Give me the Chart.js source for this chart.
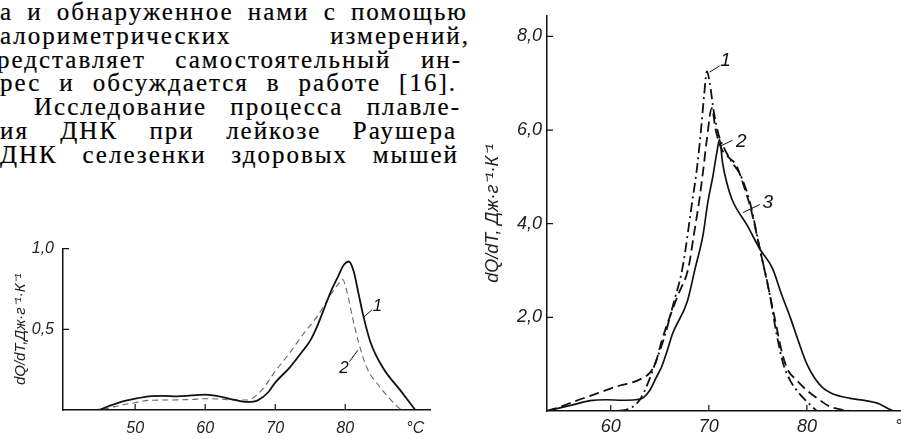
<!DOCTYPE html>
<html lang="ru">
<head>
<meta charset="utf-8">
<script src="https://cdn.jsdelivr.net/npm/chart.js@4.4.1/dist/chart.umd.min.js"></script>
<style>
  html, body { margin: 0; padding: 0; background: #fff; }
  body { width: 901px; height: 439px; overflow: hidden; position: relative; }
  .txt {
    position: absolute; white-space: nowrap; color: #000;
    font-family: "Liberation Serif", "DejaVu Serif", serif;
    font-size: 25px; line-height: 23.8px;
    -webkit-text-stroke: 0.2px #000;
  }
  #leftBox { position: absolute; left: 0; top: 230px; }
  #rightBox { position: absolute; left: 440px; top: 0; }
</style>
</head>
<body>
<div id="page"></div>
<div id="leftBox"><canvas id="leftChart" width="450" height="209"></canvas></div>
<div id="rightBox"><canvas id="rightChart" width="500" height="439"></canvas></div>
<script>
'use strict';

// left figure: dQ/dT of two DNA samples (curves 1, 2)
const leftT1 = [39.7, 44.6, 46, 48, 50, 52, 54, 56, 58, 60, 62, 64, 66, 67.5, 69, 70, 72, 74, 75, 76, 77, 78, 79, 79.8, 80.5, 81.2, 81.9, 82.6, 83.6, 85.4, 87.9, 90];
const leftQ1 = [0, 0, 0.02, 0.05, 0.07, 0.085, 0.088, 0.085, 0.09, 0.095, 0.085, 0.065, 0.05, 0.06, 0.11, 0.17, 0.26, 0.37, 0.43, 0.52, 0.63, 0.74, 0.83, 0.9, 0.92, 0.86, 0.72, 0.58, 0.42, 0.26, 0.12, 0];
const leftT2 = [44, 46, 48, 50, 52, 55, 58, 60, 62, 64, 66, 68, 70, 72, 74, 76, 78, 79, 79.6, 80.2, 81, 81.9, 83.1, 85, 87, 88];
const leftQ2 = [0, 0.01, 0.03, 0.045, 0.06, 0.062, 0.065, 0.07, 0.068, 0.062, 0.062, 0.12, 0.24, 0.35, 0.47, 0.58, 0.72, 0.78, 0.81, 0.74, 0.58, 0.42, 0.26, 0.14, 0.04, 0];
const leftTicksX = [50, 60, 70, 80, 90];
const leftTicksY = [0.5, 1.0];

// right figure: curves 1 (dash-dot), 2 (solid), 3 (dashed)
const rightT1 = [60.8, 62, 63, 63.8, 64.5, 65.5, 66.4, 67.3, 68.3, 68.8, 69.2, 69.5, 69.8, 70.1, 70.5, 71, 71.6, 72.4, 73.2, 74.2, 75.2, 76.2, 76.9, 77.6, 78.3, 79.2, 80, 81];
const rightQ1 = [0, 0.06, 0.25, 0.6, 1.0, 1.6, 2.3, 3.04, 4.46, 5.2, 6.0, 6.7, 7.25, 7.0, 6.4, 5.9, 5.6, 5.3, 5.05, 4.45, 3.46, 2.5, 1.65, 1.0, 0.65, 0.38, 0.2, 0];
const rightT2 = [53.5, 54.5, 56.1, 57.9, 59.5, 61.2, 62.5, 63.3, 64, 64.6, 65.2, 65.7, 66.3, 67.8, 68.6, 69.4, 69.9, 70.4, 70.8, 71.1, 71.4, 71.8, 72.4, 73.9, 75.2, 76.5, 77.4, 78.3, 79.2, 80, 80.8, 81.6, 82.5, 84.4, 86, 87.4, 88.2, 88.8];
const rightQ2 = [0, 0.05, 0.13, 0.22, 0.24, 0.23, 0.24, 0.28, 0.45, 0.7, 0.95, 1.25, 1.65, 2.34, 3.04, 3.75, 4.46, 5.0, 5.5, 5.8, 5.3, 4.9, 4.5, 3.97, 3.46, 3.04, 2.5, 2.0, 1.45, 1.0, 0.7, 0.5, 0.38, 0.27, 0.22, 0.15, 0.06, 0];
const rightT3 = [53.5, 55, 56.1, 58, 59.6, 61, 62.2, 63.2, 64, 64.6, 65.2, 66, 66.9, 67.9, 68.5, 69, 69.4, 69.8, 70.3, 70.7, 71.3, 72.1, 72.8, 73.5, 74.3, 75.2, 76, 76.8, 77.4, 78, 79, 80, 81.2, 82.3, 83.5, 84.4];
const rightQ3 = [0, 0.1, 0.19, 0.33, 0.45, 0.55, 0.61, 0.7, 0.82, 1.05, 1.5, 2.0, 2.5, 3.04, 3.8, 4.46, 5.1, 5.8, 6.47, 6.0, 5.6, 5.4, 5.25, 4.85, 4.3, 3.46, 2.7, 1.9, 1.3, 0.9, 0.65, 0.44, 0.25, 0.1, 0.03, 0];
const rightTicksX = [60, 70, 80, 90];
const rightTicksY = [2, 4, 6, 8];

// the book text to the left of the right figure
const textLines = [
  { text: 'а и обнаруженное нами с помощью', left: 0, right: 468 },
  { text: 'алориметрических измерений,', left: 0, right: 470 },
  { text: 'редставляет самостоятельный ин-', left: -3, right: 462 },
  { text: 'рес и обсуждается в работе [16].', left: 0, right: 457 },
  { text: 'Исследование процесса плавле-', left: 34, right: 461 },
  { text: 'ия ДНК при лейкозе Раушера', left: 0, right: 457 },
  { text: 'ДНК селезенки здоровых мышей', left: 0, right: 459 }
];

// each line is stretched to its measure: letters spaced first, the rest goes to the word gaps
const page = document.getElementById('page');
textLines.forEach((line, i) => {
  const el = document.createElement('div');
  el.className = 'txt';
  el.textContent = line.text;
  el.style.left = line.left + 'px';
  el.style.top = (i * 23.8) + 'px';
  page.appendChild(el);
  const extra = (line.right - line.left) - el.getBoundingClientRect().width;
  const ls = Math.max(-0.5, Math.min(2, extra / line.text.length));
  el.style.letterSpacing = ls + 'px';
  const gaps = (line.text.match(/ /g) || []).length;
  const rest = (line.right - line.left) - el.getBoundingClientRect().width;
  if (gaps) el.style.wordSpacing = (rest / gaps) + 'px';
});

const pts = (xs, ys) => xs.map((x, i) => ({ x: x, y: ys[i] }));
const commaNum = v => v.toFixed(1).replace('.', ',');
const axisFont = size => ({ family: "'Liberation Sans Narrow', 'Liberation Sans', Arial, sans-serif", style: 'italic', size: size });

// short tick marks drawn inside the axes, as in the print
const innerTicks = {
  id: 'innerTicks',
  afterDraw(chart, args, opts) {
    const { ctx, chartArea } = chart;
    const x = chart.scales.x, y = chart.scales.y;
    ctx.save();
    ctx.strokeStyle = '#111';
    ctx.lineWidth = 1.2;
    ctx.beginPath();
    x.ticks.forEach(t => {
      if (t.value >= 90) return;
      const px = x.getPixelForValue(t.value);
      ctx.moveTo(px, chartArea.bottom);
      ctx.lineTo(px, chartArea.bottom - opts.len);
    });
    y.ticks.forEach(t => {
      const py = y.getPixelForValue(t.value);
      ctx.moveTo(chartArea.left, py);
      ctx.lineTo(chartArea.left + opts.len, py);
    });
    ctx.stroke();
    ctx.restore();
  }
};

// curve numbers with their leader strokes
const curveNotes = {
  id: 'curveNotes',
  afterDatasetsDraw(chart, args, opts) {
    const { ctx } = chart;
    const x = chart.scales.x, y = chart.scales.y;
    ctx.save();
    ctx.strokeStyle = '#111';
    ctx.fillStyle = '#111';
    ctx.lineWidth = 1;
    ctx.font = 'italic ' + opts.size + "px 'Liberation Sans Narrow', 'Liberation Sans', Arial, sans-serif";
    ctx.textAlign = 'center';
    ctx.textBaseline = 'middle';
    opts.notes.forEach(n => {
      ctx.beginPath();
      ctx.moveTo(x.getPixelForValue(n.from[0]), y.getPixelForValue(n.from[1]));
      ctx.lineTo(x.getPixelForValue(n.to[0]), y.getPixelForValue(n.to[1]));
      ctx.stroke();
      ctx.fillText(n.text, x.getPixelForValue(n.at[0]), y.getPixelForValue(n.at[1]));
    });
    ctx.restore();
  }
};

function makeChart(canvasId, datasets, cfg) {
  return new Chart(document.getElementById(canvasId), {
    type: 'line',
    data: { datasets: datasets },
    plugins: [innerTicks, curveNotes],
    options: {
      responsive: false,
      animation: false,
      devicePixelRatio: 1,
      layout: { padding: cfg.padding },
      elements: { point: { radius: 0 }, line: { cubicInterpolationMode: 'monotone' } },
      plugins: {
        legend: { display: false },
        tooltip: { enabled: false },
        innerTicks: { len: 6 },
        curveNotes: { notes: cfg.notes, size: cfg.noteSize }
      },
      scales: {
        x: {
          type: 'linear',
          min: cfg.xMin, max: cfg.xMax,
          afterBuildTicks: s => { s.ticks = cfg.ticksX.map(v => ({ value: v })); },
          afterFit: s => { s.height = cfg.xHeight; },
          grid: { display: false, drawTicks: false },
          border: { display: true, color: '#111', width: 1.5 },
          ticks: {
            autoSkip: false, maxRotation: 0, padding: cfg.xPad,
            color: '#222', font: axisFont(cfg.tickSize),
            callback: v => (v === 90 ? '°C' : v)
          }
        },
        y: {
          min: 0, max: cfg.yMax,
          afterBuildTicks: s => { s.ticks = cfg.ticksY.map(v => ({ value: v })); },
          afterFit: s => { s.width = cfg.yWidth; },
          grid: { display: false, drawTicks: false },
          border: { display: true, color: '#111', width: 1.5 },
          ticks: { padding: cfg.yPad, color: '#222', font: axisFont(cfg.tickSize), callback: v => commaNum(v) },
          title: {
            display: true, text: cfg.yTitle, color: '#222',
            font: axisFont(cfg.titleSize), padding: { top: cfg.titlePad, bottom: 0 }
          }
        }
      }
    }
  });
}

makeChart('leftChart', [
  { data: pts(leftT1, leftQ1), borderColor: '#111', borderWidth: 1.8 },
  { data: pts(leftT2, leftQ2), borderColor: '#666', borderWidth: 1.1, borderDash: [6, 4] }
], {
  padding: { left: 0, top: 13, right: 20, bottom: 0 },
  xMin: 39.7, xMax: 92.1, yMax: 1.0,
  ticksX: leftTicksX, ticksY: leftTicksY,
  xHeight: 29, yWidth: 63, xPad: 9, yPad: 9,
  tickSize: 16, titleSize: 15, titlePad: 12,
  yTitle: 'dQ/dT,Дж·г⁻¹·К⁻¹',
  noteSize: 17,
  notes: [
    { text: '1', from: [82.5, 0.57], to: [83.8, 0.62], at: [84.6, 0.64] },
    { text: '2', from: [81.8, 0.37], to: [80.6, 0.3], at: [79.8, 0.26] }
  ]
});

makeChart('rightChart', [
  { data: pts(rightT1, rightQ1), borderColor: '#111', borderWidth: 1.8, borderDash: [10, 4, 2, 4] },
  { data: pts(rightT2, rightQ2), borderColor: '#111', borderWidth: 1.7 },
  { data: pts(rightT3, rightQ3), borderColor: '#111', borderWidth: 1.8, borderDash: [10, 5] }
], {
  padding: { left: 0, top: 11, right: 35, bottom: 0 },
  xMin: 53.5, xMax: 90, yMax: 8.44,
  ticksX: rightTicksX, ticksY: rightTicksY,
  xHeight: 28, yWidth: 107, xPad: 5, yPad: 5,
  tickSize: 18, titleSize: 18, titlePad: 42,
  yTitle: 'dQ/dT, Дж·г⁻¹·К⁻¹',
  noteSize: 19,
  notes: [
    { text: '1', from: [70.1, 7.24], to: [71.1, 7.37], at: [71.7, 7.48] },
    { text: '2', from: [71.1, 5.65], to: [72.4, 5.78], at: [73.3, 5.75] },
    { text: '3', from: [73.5, 4.24], to: [75.2, 4.41], at: [76.0, 4.44] }
  ]
});
</script>
</body>
</html>
